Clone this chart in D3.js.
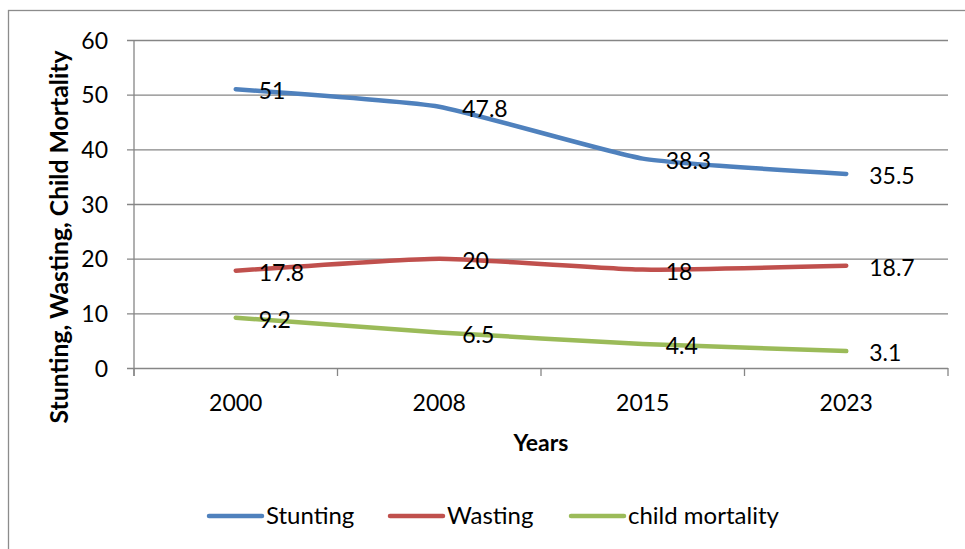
<!DOCTYPE html>
<html>
<head>
<meta charset="utf-8">
<script src="https://cdn.jsdelivr.net/npm/d3@7"></script>
<style>
  html, body { margin: 0; padding: 0; background: #fff; }
  svg { display: block; }
  text { font-family: Lato, "Open Sans", sans-serif; fill: #000; }
</style>
</head>
<body>
<svg id="chart" width="965" height="549"></svg>
<script>
// Survey years
const years = ["2000", "2008", "2015", "2023"];

// Indicator values per year (%)
const stunting = [51, 47.8, 38.3, 35.5];
const wasting = [17.8, 20, 18, 18.7];
const childMortality = [9.2, 6.5, 4.4, 3.1];

// Y axis tick values
const yTicks = [0, 10, 20, 30, 40, 50, 60];

const seriesNames = ["Stunting", "Wasting", "child mortality"];
const seriesColors = ["#4F81BD", "#C0504D", "#9BBB59"];

const series = [stunting, wasting, childMortality].map((vals, i) => ({
  name: seriesNames[i],
  color: seriesColors[i],
  points: years.map((y, j) => ({ year: y, value: vals[j] }))
}));

const svg = d3.select("#chart");
const plot = { left: 134, right: 948, top: 40, bottom: 368 };
const gridColor = "#868686";
const fontSize = 23;

// Outer chart frame
svg.append("rect")
  .attr("x", 8.5).attr("y", 10.5)
  .attr("width", 1000).attr("height", 600)
  .attr("fill", "none").attr("stroke", "#8c8c8c").attr("stroke-width", 1.3);

const x = d3.scaleBand().domain(years).range([plot.left, plot.right]);
const y = d3.scaleLinear().domain([0, 60]).range([plot.bottom, plot.top]);

// Horizontal gridlines (with left tick stubs)
const yAxis = d3.axisLeft(y).tickValues(yTicks)
  .tickSize(-(plot.right - plot.left)).tickSizeOuter(0).tickPadding(0)
  .tickFormat(d3.format("d"));
const gy = svg.append("g").attr("transform", `translate(${plot.left},0)`).call(yAxis);
gy.select(".domain").remove();
gy.selectAll(".tick line").attr("stroke", gridColor).attr("stroke-width", 1.3)
  .attr("x1", -7);
gy.selectAll(".tick text")
  .attr("x", -26).attr("dy", "0.35em")
  .style("font-size", fontSize + "px").style("font-family", "Lato, sans-serif")
  .attr("fill", "#000");

// Vertical axis line
svg.append("line")
  .attr("x1", plot.left).attr("x2", plot.left)
  .attr("y1", plot.top).attr("y2", plot.bottom + 8)
  .attr("stroke", gridColor).attr("stroke-width", 1.3);

// X axis: category labels and boundary tick marks
const gx = svg.append("g").attr("transform", `translate(0,${plot.bottom})`)
  .call(d3.axisBottom(x).tickSize(0).tickPadding(0));
gx.select(".domain").remove();
gx.selectAll(".tick line").remove();
gx.selectAll(".tick text")
  .attr("y", 43).attr("dy", 0)
  .style("font-size", fontSize + "px").style("font-family", "Lato, sans-serif")
  .attr("fill", "#000");

const boundaries = years.map(d => x(d)).concat([x(years[years.length - 1]) + x.bandwidth()]);
svg.append("g").selectAll("line").data(boundaries).join("line")
  .attr("x1", d => d).attr("x2", d => d)
  .attr("y1", plot.bottom).attr("y2", plot.bottom + 8)
  .attr("stroke", gridColor).attr("stroke-width", 1.3);

// Series lines (lightly smoothed)
const line = d3.line()
  .x(d => x(d.year) + x.bandwidth() / 2)
  .y(d => y(d.value))
  .curve(d3.curveCardinal.tension(0.55));

svg.append("g").selectAll("path").data(series).join("path")
  .attr("d", d => line(d.points))
  .attr("fill", "none")
  .attr("stroke", d => d.color)
  .attr("stroke-width", 4.5)
  .attr("stroke-linecap", "round")
  .attr("stroke-linejoin", "round");

// Data labels to the right of each point
const labels = svg.append("g");
series.forEach(s => {
  labels.selectAll(null).data(s.points).join("text")
    .attr("x", d => x(d.year) + x.bandwidth() / 2 + 23)
    .attr("y", d => y(d.value) + 2)
    .attr("dy", "0.35em")
    .style("font-size", fontSize + "px")
    .text(d => d.value);
});

// Axis titles
svg.append("text")
  .attr("x", x("2008") + x.bandwidth())
  .attr("y", 451)
  .attr("text-anchor", "middle")
  .style("font-size", "23px").style("font-weight", "bold")
  .text("Years");

const yTitle = svg.append("text")
  .attr("transform", "translate(68,237) rotate(-90)")
  .attr("text-anchor", "middle")
  .style("font-size", "22px").style("font-weight", "bold")
  .text("Stunting, Wasting, Child Mortality");
// size the vertical title to span the plot height
const tl = yTitle.node().getComputedTextLength();
yTitle.style("font-size", (22 * 373 / tl).toFixed(2) + "px");

// Legend
const legendX = [209, 390, 571];
const lg = svg.append("g");
series.forEach((s, i) => {
  const lx = legendX[i];
  lg.append("line")
    .attr("x1", lx).attr("x2", lx + 53)
    .attr("y1", 516).attr("y2", 516)
    .attr("stroke", s.color).attr("stroke-width", 4.5)
    .attr("stroke-linecap", "round");
  lg.append("text")
    .attr("x", lx + 57).attr("y", 516).attr("dy", "0.35em")
    .style("font-size", "24px")
    .text(s.name);
});
</script>
</body>
</html>
